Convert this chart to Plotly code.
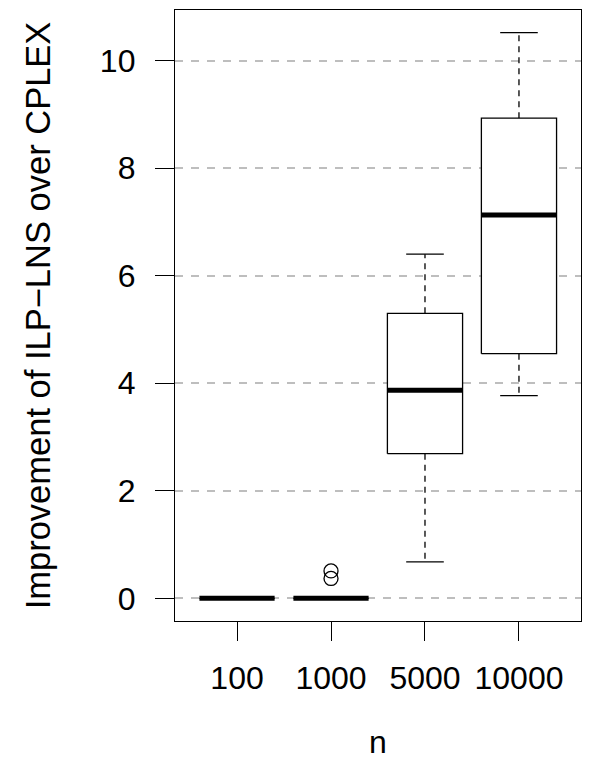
import plotly.graph_objects as go

categories = ["100", "1000", "5000", "10000"]
q1 = [0.0, 0.0, 2.69, 4.55]
median = [0.0, 0.0, 3.87, 7.13]
q3 = [0.0, 0.0, 5.30, 8.93]
lower_whisker = [0.0, 0.0, 0.68, 3.77]
upper_whisker = [0.0, 0.0, 6.40, 10.52]
outlier_cat = ["1000", "1000"]
outlier_val = [0.51, 0.37]
y_ticks = [0, 2, 4, 6, 8, 10]

BOX_HALF = 0.4
CAP_HALF = 0.2
LW = 1.3
FONT = "Liberation Sans, Arial, Helvetica, sans-serif"

fig = go.Figure()

for i, cat in enumerate(categories):
    x = i + 1
    # whiskers (dashed)
    fig.add_trace(go.Scatter(x=[x, x], y=[q3[i], upper_whisker[i]], mode="lines",
                             line=dict(color="black", width=LW, dash="6px,5px"),
                             showlegend=False, hoverinfo="skip"))
    fig.add_trace(go.Scatter(x=[x, x], y=[q1[i], lower_whisker[i]], mode="lines",
                             line=dict(color="black", width=LW, dash="6px,5px"),
                             showlegend=False, hoverinfo="skip"))
    # caps
    for v in (upper_whisker[i], lower_whisker[i]):
        fig.add_trace(go.Scatter(x=[x - CAP_HALF, x + CAP_HALF], y=[v, v], mode="lines",
                                 line=dict(color="black", width=LW),
                                 showlegend=False, hoverinfo="skip"))
    # box
    fig.add_trace(go.Scatter(x=[x - BOX_HALF, x + BOX_HALF, x + BOX_HALF, x - BOX_HALF, x - BOX_HALF],
                             y=[q1[i], q1[i], q3[i], q3[i], q1[i]], mode="lines",
                             fill="toself", fillcolor="white",
                             line=dict(color="black", width=LW),
                             showlegend=False, hoverinfo="skip"))
    # median
    fig.add_trace(go.Scatter(x=[x - BOX_HALF, x + BOX_HALF], y=[median[i], median[i]], mode="lines",
                             line=dict(color="black", width=5),
                             showlegend=False, hoverinfo="skip"))

# outliers
fig.add_trace(go.Scatter(x=[categories.index(c) + 1 for c in outlier_cat], y=outlier_val,
                         mode="markers",
                         marker=dict(symbol="circle-open", size=14, color="black",
                                     line=dict(width=LW, color="black")),
                         showlegend=False, hoverinfo="skip"))

ymax = max(upper_whisker + outlier_val)
ymin = min(lower_whisker + outlier_val)
span = ymax - ymin

fig.update_layout(
    width=589, height=773,
    margin=dict(l=174.5, r=8, t=10, b=152.4),
    plot_bgcolor="white", paper_bgcolor="white",
    font=dict(family=FONT, size=32, color="black"),
    xaxis=dict(range=[0.34, 4.66], tickvals=[1, 2, 3, 4], ticktext=categories,
               showgrid=False, zeroline=False, showline=True, mirror=True,
               linecolor="black", linewidth=LW, ticks="outside", ticklen=19,
               tickwidth=LW, tickcolor="black", ticklabelstandoff=9,
               title=dict(text="n", font=dict(size=32), standoff=36)),
    yaxis=dict(range=[ymin - 0.04 * span, ymax + 0.04 * span], tickvals=y_ticks,
               showgrid=True, gridcolor="#bebebe", gridwidth=2, griddash="8px,8px",
               zeroline=False, showline=True, mirror=True,
               linecolor="black", linewidth=LW, ticks="outside", ticklen=19,
               tickwidth=LW, tickcolor="black", ticklabelstandoff=13,
               title=dict(text="Improvement of ILP\u2212LNS over CPLEX", font=dict(size=34.5), standoff=38)),
)

fig.write_html("out.html")
